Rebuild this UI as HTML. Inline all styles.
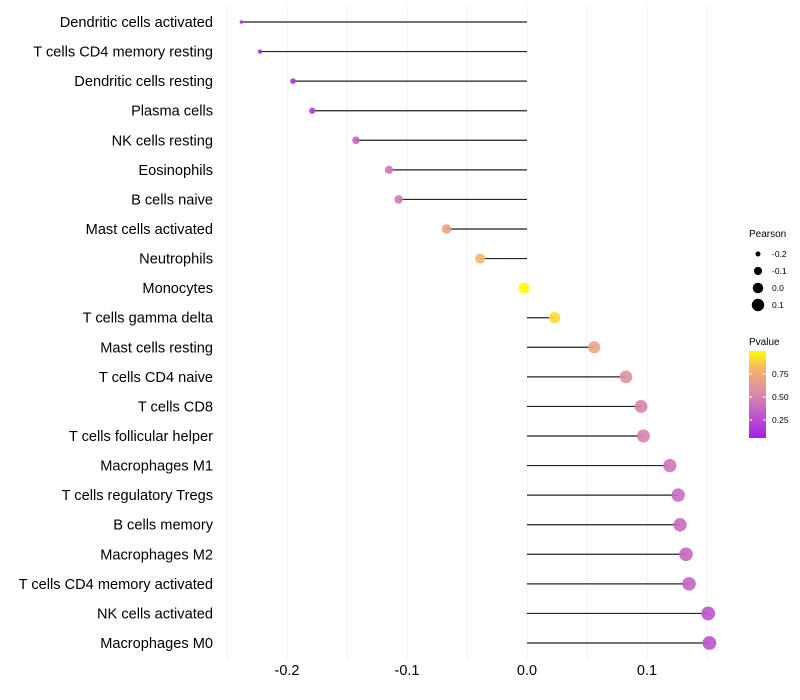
<!DOCTYPE html>
<html><head><meta charset="utf-8">
<style>
html,body{margin:0;padding:0;background:#fff;}
svg{display:block;font-family:"Liberation Sans",sans-serif;}
</style></head>
<body>
<svg id="chart" width="800" height="700" viewBox="0 0 800 700">
<defs>
<linearGradient id="pgrad" x1="0" y1="1" x2="0" y2="0">
<stop offset="0" stop-color="#a020f0"/>
<stop offset="0.5" stop-color="#d98aa8"/>
<stop offset="0.78" stop-color="#f2b070"/>
<stop offset="1" stop-color="#ffff00"/>
</linearGradient>
</defs>
<g id="grid"></g><g id="marks"></g><g id="labels"></g>
<g>
<text x="749" y="237" font-size="10" fill="#000">Pearson</text>
<g id="sizeLegend"></g>
<text x="749" y="345" font-size="10" fill="#000">Pvalue</text>
<rect x="749" y="351" width="17" height="87" fill="url(#pgrad)"/>
<g id="colorTicks"></g>
</g>
</svg>
<script>
const categories=["Dendritic cells activated","T cells CD4 memory resting","Dendritic cells resting","Plasma cells","NK cells resting","Eosinophils","B cells naive","Mast cells activated","Neutrophils","Monocytes","T cells gamma delta","Mast cells resting","T cells CD4 naive","T cells CD8","T cells follicular helper","Macrophages M1","T cells regulatory  Tregs ","B cells memory","Macrophages M2","T cells CD4 memory activated","NK cells activated","Macrophages M0"];
const pearson=[-0.238,-0.2225,-0.195,-0.179,-0.1425,-0.115,-0.107,-0.067,-0.039,-0.0025,0.023,0.056,0.0825,0.095,0.097,0.119,0.126,0.1275,0.1325,0.135,0.151,0.152];
const pvalue=[0.05,0.06,0.1,0.14,0.3,0.4,0.43,0.68,0.8,0.99,0.9,0.7,0.55,0.47,0.46,0.4,0.37,0.36,0.33,0.32,0.25,0.25];
const xTicks=[-0.2,-0.1,0.0,0.1];
const xTickLabels=["-0.2","-0.1","0.0","0.1"];
const sizeLegendVals=[-0.2,-0.1,0.0,0.1];
const colorTickVals=[0.25,0.5,0.75];
const colorTickLabels=["0.25","0.50","0.75"];

const NS="http://www.w3.org/2000/svg";
const x=v=>527+v*1200;
const y=i=>22+i*(621/21);
const r=v=>Math.sqrt(3+115*(v+0.24));
const cy=v=>443-v*92;
function lerp(a,b,t){return a+(b-a)*t;}
const stops=[[0,[160,32,240]],[0.5,[217,138,168]],[0.78,[242,176,112]],[1,[255,255,0]]];
function col(p){for(let k=1;k<stops.length;k++){if(p<=stops[k][0]){const t=(p-stops[k-1][0])/(stops[k][0]-stops[k-1][0]);const a=stops[k-1][1],b=stops[k][1];return `rgb(${Math.round(lerp(a[0],b[0],t))},${Math.round(lerp(a[1],b[1],t))},${Math.round(lerp(a[2],b[2],t))})`;}}return "rgb(255,255,0)";}
function mk(tag,attrs,parent){const e=document.createElementNS(NS,tag);for(const k in attrs)e.setAttribute(k,attrs[k]);parent.appendChild(e);return e;}

const grid=document.getElementById('grid');
for(let v=-0.25;v<=0.151;v+=0.05){
  const g=mk('line',{x1:x(v),x2:x(v),y1:5,y2:660,stroke:'#f0f0f0','stroke-width':1},grid);
  
  
}
const labels=document.getElementById('labels');
xTicks.forEach((v,i)=>{
  const t=mk('text',{x:x(v),y:675,'font-size':14.5,'text-anchor':'middle',fill:'#000'},labels);
  t.textContent=xTickLabels[i];
  
  
});
const marks=document.getElementById('marks');
categories.forEach((c,i)=>{
  const t=mk('text',{x:213,y:y(i)+5,'font-size':14.6,'text-anchor':'end',fill:'#000'},labels);
  t.textContent=c;
  
  
  const l=mk('line',{x1:x(0),x2:x(pearson[i]),y1:y(i),y2:y(i),stroke:'#222','stroke-width':1.2},marks);
  
  
  const d=mk('circle',{cx:x(pearson[i]),cy:y(i),r:r(pearson[i]),fill:col(pvalue[i]),'fill-opacity':0.9},marks);
  
  
});
const sl=document.getElementById('sizeLegend');
sizeLegendVals.forEach((v,i)=>{
  const yy=254+i*17;
  const c=mk('circle',{cx:758,cy:yy,r:r(v)-0.3,fill:'#000'},sl);
  
  
  const t=mk('text',{x:772,y:yy+3,'font-size':8.5,fill:'#000'},sl);
  t.textContent=v.toFixed(1);
  
  
});
const ct=document.getElementById('colorTicks');
colorTickVals.forEach((v,i)=>{
  const yy=cy(v);
  const a=mk('line',{x1:749,x2:752,y1:yy,y2:yy,stroke:'#fff','stroke-width':1},ct);
  
  
  const b=mk('line',{x1:763,x2:766,y1:yy,y2:yy,stroke:'#fff','stroke-width':1},ct);
  
  
  const t=mk('text',{x:772,y:yy+3,'font-size':8.5,fill:'#000'},ct);
  t.textContent=colorTickLabels[i];
  
  
});
</script>
</body></html>
